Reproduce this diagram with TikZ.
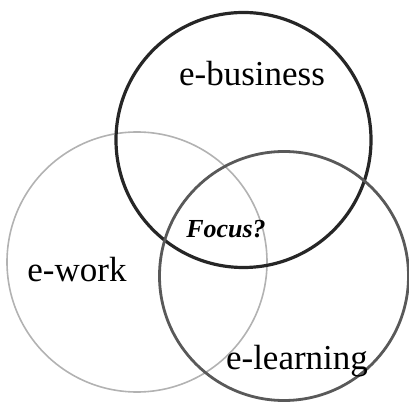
\documentclass[tikz,border=0pt]{standalone}
\usepackage{fontspec}
\setmainfont{Liberation Serif}
\usepackage{tikz}

\tikzset{
  area/.style={font=\fontsize{35}{40}\selectfont, anchor=base, inner sep=0pt},
  ring/.style={line width=#1},
}

\begin{document}
\begin{tikzpicture}[x=1pt,y=1pt]
            \useasboundingbox (0,0) rectangle (409,409);
            % the three fields
            \draw[ring=1.6pt, black!30]  (137,147) circle (130);
            \draw[ring=3.2pt, black!85]  (243.5,269) circle (127.5);
            \draw[ring=2.8pt, black!65]  (284,133) circle (124.5);

            % labels
            \node[area] (ebus)  at (252,323) {e-business};
            \node[area] (ework) at (77,127)  {e-work};
            \node[area] (elearn) at (297,39) {e-learning};
            \node[area, font=\fontsize{26}{30}\selectfont\bfseries\itshape] (focus) at (226,171) {Focus?};
        \end{tikzpicture}
\end{document}
